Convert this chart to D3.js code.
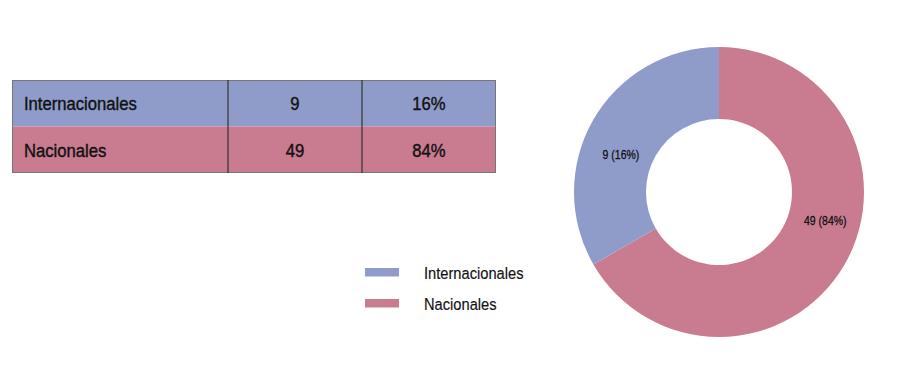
<!DOCTYPE html>
<html><head><meta charset="utf-8">
<script src="https://cdn.jsdelivr.net/npm/d3@7"></script>
<style>body{margin:0;background:#fff}svg{display:block}text{font-family:"Liberation Sans",Arial,sans-serif}</style>
</head><body><svg id="c" width="900" height="368"></svg>
<script>
const categories = ["Internacionales", "Nacionales"];
const counts = [9, 49];
const percents = ["16%", "84%"];
const colors = ["#8f9cc9", "#c97b90"];
// slice shares as drawn in the reference picture
const sliceShares = [1/3, 2/3];
// label angles (degrees, clockwise from top) as seen in the picture
const labelAngles = [291, 105];

const svg = d3.select("#c");
function txt(parent, x, y, s, size, sx, anchor, sw) {
  return parent.append("text")
    .attr("transform", `translate(${x},${y}) scale(${sx},1)`)
    .attr("text-anchor", anchor || "start")
    .attr("font-size", size).attr("fill", "#111")
    .attr("stroke", "#111").attr("stroke-width", sw || 0.3)
    .text(s);
}

// ---- table ----
const ty = 80, rowH = 46.5;
const colX = d3.scaleOrdinal().domain([0,1,2,3]).range([12, 228, 362, 496]);
const rowY = d3.scaleBand().domain(categories).range([ty, ty + rowH*2]);
const tbl = svg.append("g");
categories.forEach((c, i) => {
  const y = rowY(c);
  tbl.append("rect").attr("x", colX(0)).attr("y", y).attr("width", colX(3)-colX(0)).attr("height", rowY.bandwidth()).attr("fill", colors[i]);
  const by = y + rowH/2 + 7;
  txt(tbl, 24, by, c, 18.5, 0.9, "start", 0.4);
  txt(tbl, (colX(1)+colX(2))/2, by, counts[i], 18.5, 0.9, "middle", 0.4);
  txt(tbl, (colX(2)+colX(3))/2, by, percents[i], 18.5, 0.9, "middle", 0.4);
});
tbl.append("rect").attr("x", colX(0)+0.5).attr("y", ty+0.5).attr("width", colX(3)-colX(0)-1).attr("height", rowH*2-1).attr("fill", "none").attr("stroke", "#777").attr("stroke-width", 1);
[1,2].forEach(k => tbl.append("line").attr("x1", colX(k)).attr("x2", colX(k)).attr("y1", ty).attr("y2", ty+rowH*2).attr("stroke", "#333").attr("stroke-width", 1.2));

// ---- legend ----
const lg = svg.append("g");
const ly = d3.scaleBand().domain(categories).range([262, 324]);
categories.forEach((c, i) => {
  const y = ly(c);
  lg.append("rect").attr("x", 365).attr("y", y + 6).attr("width", 34).attr("height", 8.5).attr("fill", colors[i]);
  txt(lg, 424, y + 17, c, 16.5, 0.89, "start", 0.15);
});

// ---- donut ----
const cx = 719, cy = 192, R = 145, r = 73;
const pie = d3.pie().sort(null).value(d => d);
const arcsData = pie.startAngle(0).endAngle(2*Math.PI)([sliceShares[1], sliceShares[0]]);
const arc = d3.arc().innerRadius(r).outerRadius(R);
const g = svg.append("g").attr("transform", `translate(${cx},${cy})`);
g.selectAll("path").data(arcsData).join("path")
  .attr("d", arc)
  .attr("fill", (d, i) => i === 0 ? colors[1] : colors[0]);
categories.forEach((c, i) => {
  const a = labelAngles[i] * Math.PI / 180;
  const rr = i === 0 ? 105 : 110;
  txt(g, rr*Math.sin(a), -rr*Math.cos(a) + 4.5, `${counts[i]} (${percents[i]})`, 12.5, 0.84, "middle", 0.3);
});
</script></body></html>
